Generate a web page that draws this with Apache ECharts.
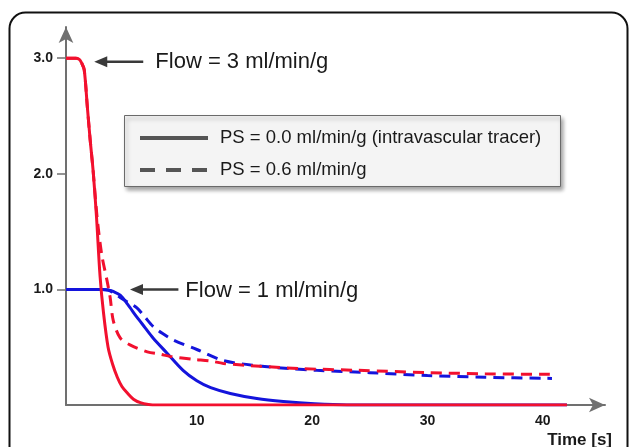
<!DOCTYPE html>
<html><head><meta charset="utf-8">
<script src="https://cdn.jsdelivr.net/npm/echarts@6/dist/echarts.min.js"></script>
<style>html,body{margin:0;padding:0;background:#fff;}#c{width:629px;height:447px;}</style>
</head><body><div id="c"></div>
<script>
// ---- data (time in s, normalized concentration) ----
const xTickValues = [10, 20, 30, 40];
const yTickValues = [1, 2, 3];
const xTickLabels = ['10', '20', '30', '40'];
const yTickLabels = ['1.0', '2.0', '3.0'];

const redSolidT = [-1.35, -0.5, -0.2, 0.0, 0.23, 0.5, 0.75, 1.0, 1.3, 1.6, 1.9, 2.3, 2.7, 3.1, 3.5, 4.0, 4.5, 5.1, 5.8, 6.5, 42.1];
const redSolidV = [3.0, 3.0, 2.99, 2.96, 2.9, 2.58, 2.29, 2.03, 1.62, 1.12, 0.8, 0.5, 0.35, 0.24, 0.16, 0.1, 0.05, 0.02, 0.005, 0, 0];

const redDashT = [-1.35, -0.5, -0.2, 0.0, 0.23, 0.5, 0.75, 1.0, 1.35, 1.75, 2.2, 2.48, 2.75, 3.35, 4.2, 5.7, 6.8, 7.7, 9.7, 11.2, 12.3, 15.5, 19, 24, 30, 35, 40.8];
const redDashV = [3.0, 3.0, 2.99, 2.96, 2.9, 2.58, 2.29, 2.03, 1.62, 1.3, 1.08, 0.93, 0.73, 0.58, 0.52, 0.46, 0.44, 0.42, 0.395, 0.38, 0.36, 0.335, 0.315, 0.30, 0.28, 0.27, 0.265];

const blueSolidT = [-1.35, 1.8, 2.3, 2.8, 3.35, 4.0, 4.8, 5.5, 6.2, 7.4, 8.8, 10, 11.2, 12.9, 15.2, 17.5, 20.2, 23, 42.1];
const blueSolidV = [1, 1, 0.995, 0.98, 0.95, 0.87, 0.76, 0.67, 0.58, 0.45, 0.3, 0.21, 0.15, 0.1, 0.056, 0.03, 0.01, 0, 0];

const blueDashT = [-1.35, 1.8, 2.3, 2.8, 3.35, 4.0, 4.8, 5.5, 6.2, 7.0, 8.0, 10, 12.3, 15.2, 18.1, 20.4, 25, 30, 35, 40.8];
const blueDashV = [1, 1, 0.995, 0.97, 0.93, 0.89, 0.84, 0.76, 0.68, 0.62, 0.56, 0.48, 0.385, 0.34, 0.315, 0.30, 0.28, 0.255, 0.24, 0.23];

const legendTexts = ['PS = 0.0 ml/min/g (intravascular tracer)', 'PS = 0.6 ml/min/g'];
const annoTexts = ['Flow = 3 ml/min/g', 'Flow = 1 ml/min/g'];
const annoTextAt = [[6.4, 2.97], [9.0, 0.99]];
const annoArrowFrom = [[5.35, 2.97], [8.4, 1.0]];
const annoArrowTo = [[1.1, 2.97], [4.2, 1.0]];
const xAxisTitle = 'Time [s]';

const pair = (t, v) => t.map((x, i) => [x, v[i]]);
const FONT = "'Liberation Sans', Arial, sans-serif";
const RED = '#f2102e', BLUE = '#1414dc';

const chart = echarts.init(document.getElementById('c'), null, {renderer: 'canvas'});
const lineSeries = (name, data, color, dashed, z) => ({
  name, type: 'line', data, showSymbol: false, smooth: 0.3,
  lineStyle: {color, width: 3, type: dashed ? [11, 7] : 'solid', cap: 'butt'},
  z, animation: false
});

chart.setOption({
  animation: false,
  grid: {left: 66, right: 24, top: 27, bottom: 42},
  xAxis: {
    type: 'value', min: -1.35, max: 45.4,
    axisLine: {show: true, onZero: false, symbol: ['none', 'arrow'], symbolSize: [11, 16], lineStyle: {color: '#707070', width: 2}},
    axisTick: {show: false},
    splitLine: {show: false},
    axisLabel: {customValues: xTickValues, formatter: v => xTickLabels[xTickValues.indexOf(v)] || '',
      fontFamily: FONT, fontWeight: 'bold', fontSize: 14, color: '#1a1a1a', margin: 9}
  },
  yAxis: {
    type: 'value', min: 0, max: 3.27,
    axisLine: {show: true, onZero: false, symbol: ['none', 'arrow'], symbolSize: [11, 16], lineStyle: {color: '#707070', width: 2}},
    axisTick: {show: true, customValues: yTickValues, length: 9, lineStyle: {color: '#707070', width: 1.5}},
    splitLine: {show: false},
    axisLabel: {customValues: yTickValues, formatter: v => yTickLabels[yTickValues.indexOf(v)] || '',
      fontFamily: FONT, fontWeight: 'bold', fontSize: 14, color: '#1a1a1a', margin: 13}
  },
  series: [
    lineSeries('blueDash', pair(blueDashT, blueDashV), BLUE, true, 2),
    lineSeries('blueSolid', pair(blueSolidT, blueSolidV), BLUE, false, 3),
    lineSeries('redDash', pair(redDashT, redDashV), RED, true, 4),
    lineSeries('redSolid', pair(redSolidT, redSolidV), RED, false, 5)
  ]
});

const px = p => chart.convertToPixel({gridIndex: 0}, p);
const g = [];
// frame
g.push({type: 'rect', shape: {x: 9.5, y: 12.5, width: 618, height: 520, r: 16}, style: {fill: 'none', stroke: '#111', lineWidth: 2}, z: 100});
// legend box
g.push({type: 'rect', shape: {x: 124.5, y: 115.5, width: 436, height: 71}, style: {fill: '#f4f4f4', stroke: '#6a6a6a', lineWidth: 1, shadowBlur: 4, shadowOffsetX: 2, shadowOffsetY: 3, shadowColor: 'rgba(0,0,0,0.35)'}, z: 50});
g.push({type: 'line', shape: {x1: 140, y1: 138, x2: 208, y2: 138}, style: {stroke: '#555', lineWidth: 4}, z: 51});
g.push({type: 'line', shape: {x1: 140, y1: 170, x2: 208, y2: 170}, style: {stroke: '#555', lineWidth: 4, lineDash: [15, 11]}, z: 51});
legendTexts.forEach((t, i) => g.push({type: 'text', x: 220, y: 138 + 32 * i, style: {text: t, font: '18.5px ' + FONT, fill: '#1a1a1a', textVerticalAlign: 'middle', verticalAlign: 'middle'}, z: 51}));
// annotations
annoTexts.forEach((t, i) => {
  const a = px(annoArrowFrom[i]), b = px(annoArrowTo[i]), tp = px(annoTextAt[i]);
  g.push({type: 'line', shape: {x1: a[0], y1: a[1], x2: b[0] + 10, y2: b[1]}, style: {stroke: '#3a3a3a', lineWidth: 2.5}, z: 60});
  g.push({type: 'polygon', shape: {points: [[b[0], b[1]], [b[0] + 13, b[1] - 5.5], [b[0] + 13, b[1] + 5.5]]}, style: {fill: '#3a3a3a'}, z: 60});
  g.push({type: 'text', x: tp[0], y: tp[1], style: {text: t, font: '22px ' + FONT, fill: '#1a1a1a', verticalAlign: 'middle', textVerticalAlign: 'middle'}, z: 60});
});
g.push({type: 'text', x: 612, y: 440, style: {text: xAxisTitle, font: 'bold 17px ' + FONT, fill: '#1a1a1a', align: 'right', textAlign: 'right', verticalAlign: 'middle', textVerticalAlign: 'middle'}, z: 60});
chart.setOption({graphic: g});
</script></body></html>
